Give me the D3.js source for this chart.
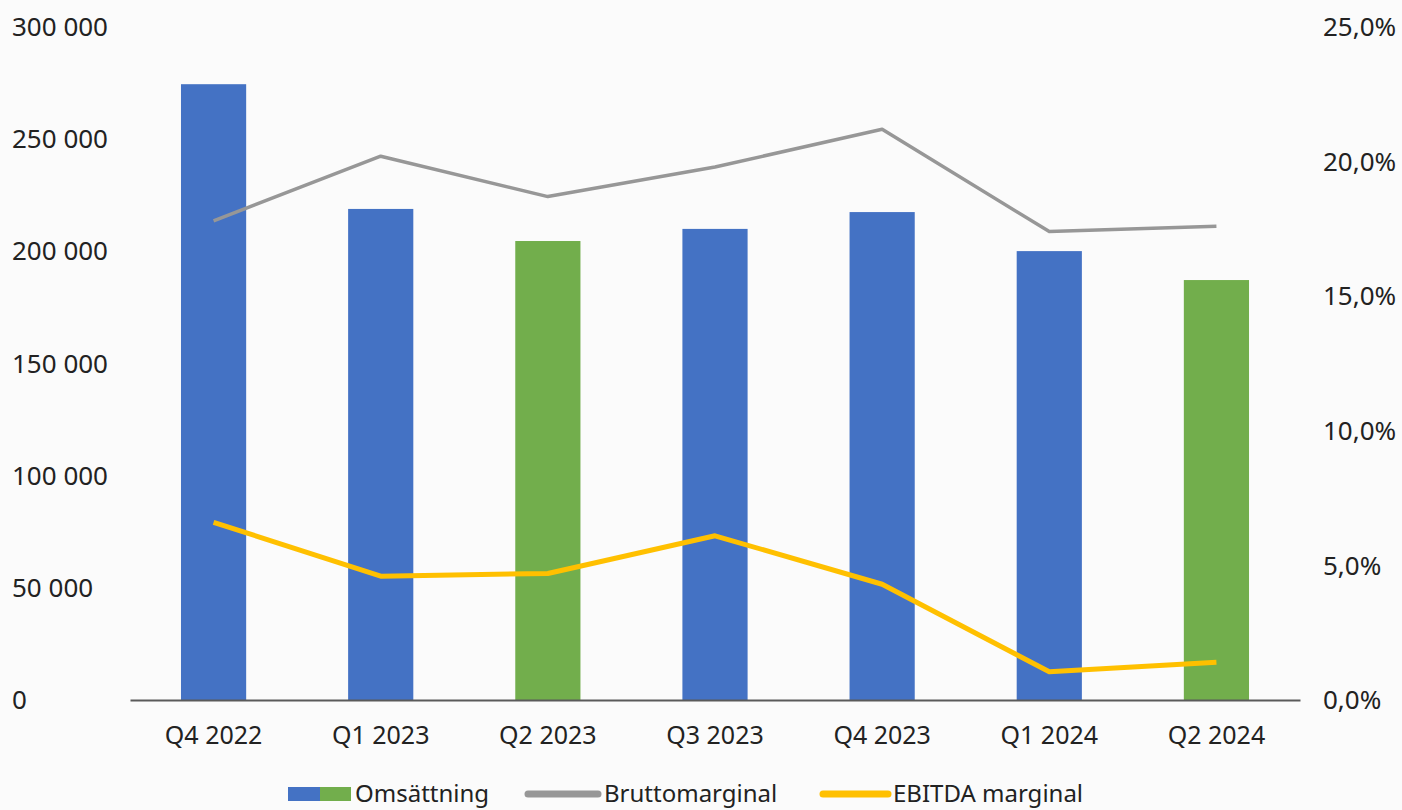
<!DOCTYPE html>
<html>
<head>
<meta charset="utf-8">
<script src="https://cdn.jsdelivr.net/npm/d3@7"></script>
<style>
  body { margin: 0; background: #fbfbfb; }
  text { font-family: "Noto Sans", "Open Sans", sans-serif; fill: #222; }
</style>
</head>
<body>
<div id="chart"></div>
<script>
var QUARTERS = ['Q4 2022', 'Q1 2023', 'Q2 2023', 'Q3 2023', 'Q4 2023', 'Q1 2024', 'Q2 2024'];
var OMSATTNING = [274500, 218900, 204600, 210000, 217500, 200100, 187200];
var BRUTTOMARGINAL = [17.8, 20.2, 18.7, 19.8, 21.2, 17.4, 17.6];
var EBITDA_MARGINAL = [6.6, 4.6, 4.7, 6.1, 4.3, 1.05, 1.4];
var LEFT_TICKS = [0, 50000, 100000, 150000, 200000, 250000, 300000];
var RIGHT_TICKS = [0, 5, 10, 15, 20, 25];
var GREEN_QUARTERS = ['Q2 2023', 'Q2 2024'];

var width = 1402, height = 810;
var blue = "#4472c4", green = "#72ae4c", gray = "#979797", yellow = "#ffc000";

var svg = d3.select("#chart")
    .append("svg")
    .attr("width", width)
    .attr("height", height);

var locale = d3.formatLocale({decimal: ",", thousands: " ", grouping: [3], currency: ["", ""]});
var fmtLeft = locale.format(",.0f");
var fmtRight = locale.format(".1f");

var x = d3.scaleBand()
    .domain(QUARTERS)
    .range([130, 1300])
    .paddingInner(0.61)
    .paddingOuter(0.305);

var y = d3.scaleLinear().domain([0, 300000]).range([700, 27]);
var y2 = d3.scaleLinear().domain([0, 25]).range([700, 27]);

var data = QUARTERS.map(function(q, i) {
    return {q: q, oms: OMSATTNING[i], brutto: BRUTTOMARGINAL[i], ebitda: EBITDA_MARGINAL[i]};
});

// left axis labels
svg.append("g").selectAll("text")
    .data(LEFT_TICKS)
    .enter().append("text")
    .attr("x", 12)
    .attr("y", function(d) { return y(d); })
    .attr("dy", "0.35em")
    .style("font-size", "26px")
    .text(function(d) { return fmtLeft(d); });

// right axis labels
svg.append("g").selectAll("text")
    .data(RIGHT_TICKS)
    .enter().append("text")
    .attr("x", 1323)
    .attr("y", function(d) { return y2(d); })
    .attr("dy", "0.35em")
    .style("font-size", "26px")
    .text(function(d) { return fmtRight(d) + "%"; });

// bars
svg.append("g").selectAll("rect")
    .data(data)
    .enter().append("rect")
    .attr("x", function(d) { return x(d.q); })
    .attr("y", function(d) { return y(d.oms); })
    .attr("width", x.bandwidth())
    .attr("height", function(d) { return y(0) - y(d.oms); })
    .attr("fill", function(d) { return GREEN_QUARTERS.indexOf(d.q) >= 0 ? green : blue; });

// x axis
var xAxis = svg.append("g")
    .attr("transform", "translate(0,700)")
    .call(d3.axisBottom(x).tickSize(0).tickPadding(26));
xAxis.select(".domain").attr("stroke", "#5a5a5a").attr("stroke-width", 2);
xAxis.selectAll("text")
    .style("font-size", "25px")
    .style("font-family", "'Noto Sans', 'Open Sans', sans-serif")
    .attr("fill", "#222");

var cx = function(d) { return x(d.q) + x.bandwidth() / 2; };

svg.append("path")
    .datum(data)
    .attr("fill", "none")
    .attr("stroke", gray)
    .attr("stroke-width", 3.5)
    .attr("stroke-linejoin", "round")
    .attr("d", d3.line().x(cx).y(function(d) { return y2(d.brutto); }));

svg.append("path")
    .datum(data)
    .attr("fill", "none")
    .attr("stroke", yellow)
    .attr("stroke-width", 5)
    .attr("stroke-linejoin", "round")
    .attr("d", d3.line().x(cx).y(function(d) { return y2(d.ebitda); }));

// legend
var lg = svg.append("g").attr("transform", "translate(0,794)");
lg.append("rect").attr("x", 288).attr("y", -7).attr("width", 32).attr("height", 14).attr("fill", blue);
lg.append("rect").attr("x", 320).attr("y", -7).attr("width", 31).attr("height", 14).attr("fill", green);
lg.append("text").attr("x", 355).attr("dy", "0.35em").style("font-size", "24px").text("Omsättning");
lg.append("line").attr("x1", 528).attr("x2", 598).attr("stroke", gray).attr("stroke-width", 7).attr("stroke-linecap", "round");
lg.append("text").attr("x", 604).attr("dy", "0.35em").style("font-size", "24px").text("Bruttomarginal");
lg.append("line").attr("x1", 823).attr("x2", 888).attr("stroke", yellow).attr("stroke-width", 7).attr("stroke-linecap", "round");
lg.append("text").attr("x", 893).attr("dy", "0.35em").style("font-size", "24px").text("EBITDA marginal");
</script>
</body>
</html>
